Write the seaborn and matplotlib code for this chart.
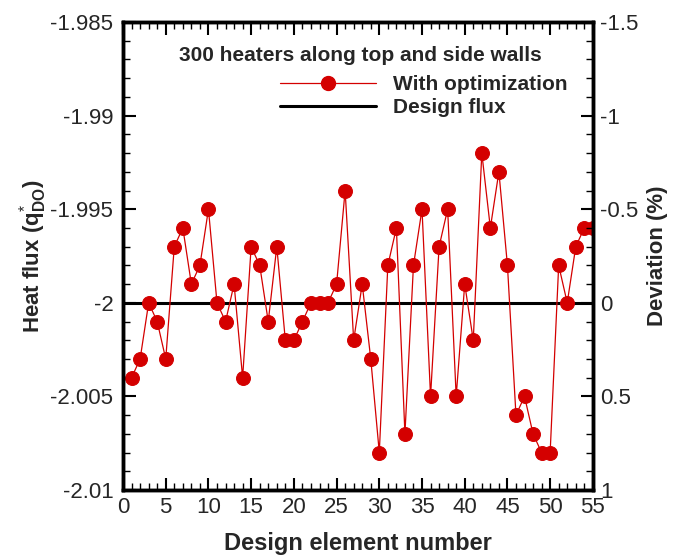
import matplotlib
matplotlib.use("Agg")
import matplotlib.pyplot as plt
import seaborn as sns
import numpy as np
import pandas as pd
from matplotlib.lines import Line2D
from matplotlib.ticker import MultipleLocator

element = list(range(1, 56))
heat_flux = [-2.004, -2.003, -2.000, -2.001, -2.003, -1.997, -1.996, -1.999, -1.998, -1.995,
             -2.000, -2.001, -1.999, -2.004, -1.997, -1.998, -2.001, -1.997, -2.002, -2.002,
             -2.001, -2.000, -2.000, -2.000, -1.999, -1.994, -2.002, -1.999, -2.003, -2.008,
             -1.998, -1.996, -2.007, -1.998, -1.995, -2.005, -1.997, -1.995, -2.005, -1.999,
             -2.002, -1.992, -1.996, -1.993, -1.998, -2.006, -2.005, -2.007, -2.008, -2.008,
             -1.998, -2.000, -1.997, -1.996, -1.996]
design_flux = -2.0
x_ticks = [0, 5, 10, 15, 20, 25, 30, 35, 40, 45, 50, 55]
y_ticks = [-2.01, -2.005, -2.0, -1.995, -1.99, -1.985]
y_tick_labels = ["-2.01", "-2.005", "-2", "-1.995", "-1.99", "-1.985"]
dev_ticks = [1, 0.5, 0, -0.5, -1, -1.5]
dev_tick_labels = ["1", "0.5", "0", "-0.5", "-1", "-1.5"]

sns.set_theme(style="white")
plt.rcParams['font.family'] = ['Liberation Sans', 'DejaVu Sans']
plt.rcParams['mathtext.fontset'] = 'custom'
plt.rcParams['mathtext.bf'] = 'Liberation Sans:bold'
plt.rcParams['mathtext.rm'] = 'Liberation Sans'

red = "#d40000"
df = pd.DataFrame({"element": element, "flux": heat_flux})

fig = plt.figure(figsize=(6.76, 5.59), dpi=100)
ax = fig.add_axes([0.182, 0.1234, 0.695, 0.8372])

sns.lineplot(data=df, x="element", y="flux", ax=ax, color=red, linewidth=0.9,
             marker="o", markersize=10, markeredgecolor=red, markerfacecolor=red)
ax.axhline(design_flux, color="black", linewidth=2.2, zorder=1)

ax.set_xlim(0, 55)
ax.set_ylim(-2.01, -1.985)
ax.set_xticks(x_ticks)
ax.set_xticklabels([str(t) for t in x_ticks])
ax.set_yticks(y_ticks)
ax.set_yticklabels(y_tick_labels)
ax.xaxis.set_minor_locator(MultipleLocator(1))
ax.yaxis.set_minor_locator(MultipleLocator(0.001))
ax.tick_params(axis="x", which="both", direction="in", top=True, bottom=True, labelsize=16, pad=5)
ax.tick_params(axis="y", which="both", direction="in", left=True, right=False, labelsize=16, pad=7)
ax.tick_params(which="major", length=9, width=1.5, color="black")
ax.tick_params(which="minor", length=5, width=1.0, color="black")
for s in ax.spines.values():
    s.set_linewidth(2.5)
    s.set_color("black")

ax.set_xlabel("Design element number", fontsize=17, fontweight="bold", labelpad=10)
ax.set_ylabel(r"Heat flux ($\mathbf{q}^{*}_{\mathbf{DO}}$)", fontsize=16, fontweight="bold", labelpad=1)

ax2 = ax.twinx()
ax2.set_ylim(1, -1.5)
ax2.set_yticks(dev_ticks)
ax2.set_yticklabels(dev_tick_labels)
ax2.yaxis.set_minor_locator(MultipleLocator(0.1))
ax2.tick_params(axis="y", which="both", direction="in", right=True, left=False, labelsize=16, pad=5)
ax2.tick_params(which="major", length=9, width=1.5, color="black")
ax2.tick_params(which="minor", length=5, width=1.0, color="black")
ax2.set_ylabel("Deviation (%)", fontsize=16, fontweight="bold", labelpad=6)
for s in ax2.spines.values():
    s.set_linewidth(2.5)
    s.set_color("black")
ax2.grid(False)
ax.grid(False)

ax.text(0.505, 0.928, "300 heaters along top and side walls", transform=ax.transAxes,
        ha="center", va="center", fontsize=15, fontweight="bold")
handles = [Line2D([0], [0], color=red, linewidth=0.9, marker="o", markersize=10),
           Line2D([0], [0], color="black", linewidth=2.2)]
leg = ax.legend(handles, ["With optimization", "Design flux"], loc="upper left",
                bbox_to_anchor=(0.335, 0.887), frameon=False, handlelength=4.6,
                handletextpad=0.8, labelspacing=0.2, borderaxespad=0, borderpad=0,
                prop={"weight": "bold", "size": 15})

fig.savefig("out.png", dpi=100)
